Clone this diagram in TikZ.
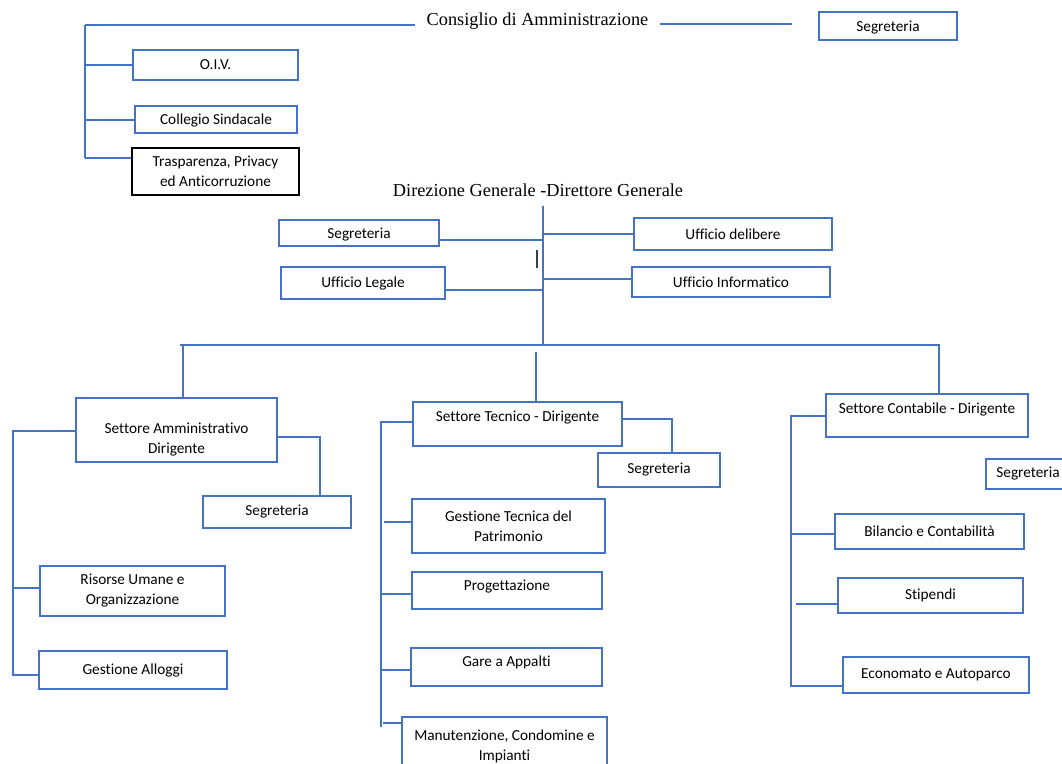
\documentclass[tikz,border=0pt]{standalone}
\usepackage{fontspec}
\setmainfont{Liberation Serif}
\newfontfamily\calfont[Ligatures={NoCommon}]{Carlito}
\usepackage{xcolor}
\usetikzlibrary{positioning}
\definecolor{orgblue}{RGB}{68,114,196}
\tikzset{
  unit/.style={draw=orgblue, line width=1.1pt, rectangle, inner sep=2pt, align=center,
    font=\calfont\fontsize{15.3}{20}\selectfont},
  link/.style={draw=orgblue, line width=1.1pt},
  head/.style={font=\fontsize{18.3}{22}\selectfont, inner xsep=11pt, inner ysep=4pt},
}

\begin{document}
\begin{tikzpicture}[x=1pt, y=-1pt]
  \useasboundingbox (0,0) rectangle (1062,763);
  \clip (0,0) rectangle (1062,763);
  \fill[white] (0,0) rectangle (1062,763);

  % Consiglio di Amministrazione
  \node[head] (cda) at (537.5,21) {Consiglio di Amministrazione};
  \node[unit, minimum width=138, minimum height=28, text height=13pt] (segcda) at (888,26) {Segreteria};
  \node[unit, minimum width=165, minimum height=30] (oiv) at (215.5,65) {O.I.V.};
  \node[unit, minimum width=162, minimum height=27, text height=13pt] (collegio) at (216,119.5) {Collegio Sindacale};
  \node[unit, draw=black, minimum width=167, minimum height=47] (trasp) at (215.5,171.5) {Trasparenza, Privacy\\ed Anticorruzione};

  \coordinate (cdaL) at (85,25);
  \coordinate (cdaR) at (792,24);
  \coordinate (cdaB) at (85,158);
  \draw[link] (cdaL) -- (cdaL -| cda.west);
  \draw[link] (cdaR -| cda.east) -- (cdaR);
  \draw[link] (cdaL) -- (cdaB);
  \coordinate (jOiv) at (85,65);
  \draw[link] (jOiv) -- (jOiv -| oiv.west);
  \coordinate (jCollegio) at (85,120);
  \draw[link] (jCollegio) -- (jCollegio -| collegio.west);
  \draw[link] (cdaB) -- (cdaB -| trasp.west);

  % Direzione Generale
  \node[head] (dg) at (538,190) {Direzione Generale -Direttore Generale};
  \node[unit, minimum width=160, minimum height=26, text height=14.5pt] (segdg) at (359,233) {Segreteria};
  \node[unit, minimum width=164, minimum height=32, text height=12pt] (legale) at (363,283) {Ufficio Legale};
  \node[unit, minimum width=198, minimum height=32] (delibere) at (733,234) {Ufficio delibere};
  \node[unit, minimum width=198, minimum height=30] (informatico) at (731,282) {Ufficio Informatico};

  \coordinate (dgT) at (543,206);
  \coordinate (dgB) at (543,345);
  \draw[link] (dgT) -- (dgB);
  \coordinate (jSegdg) at (543,240);
  \draw[link] (jSegdg) -- (jSegdg -| segdg.east);
  \coordinate (jLegale) at (543,290);
  \draw[link] (jLegale) -- (jLegale -| legale.east);
  \coordinate (jDelibere) at (543,234);
  \draw[link] (jDelibere) -- (jDelibere -| delibere.west);
  \coordinate (jInformatico) at (543,279);
  \draw[link] (jInformatico) -- (jInformatico -| informatico.west);
  \draw[black!75, line width=1.4pt] (537,250) -- (537,268);

  % settori
  \node[unit, minimum width=201, minimum height=64, text height=49.5pt] (amm) at (176.5,430) {Settore Amministrativo\\Dirigente};
  \node[unit, minimum width=209, minimum height=44, text depth=16pt] (tecnico) at (517.5,424) {Settore Tecnico - Dirigente};
  \node[unit, minimum width=202, minimum height=43, text depth=15pt] (contab) at (927,415.5) {Settore Contabile - Dirigente};

  \coordinate (busL) at (180,345);
  \coordinate (busR) at (940,345);
  \draw[link] (busL) -- (busR);
  \coordinate (bA) at (183,345);
  \draw[link] (bA) -- (bA |- amm.north);
  \coordinate (bT) at (536,352);
  \draw[link] (bT) -- (bT |- tecnico.north);
  \coordinate (bC) at (939,345);
  \draw[link] (bC) -- (bC |- contab.north);

  % Settore Amministrativo
  \node[unit, minimum width=148, minimum height=32] (segamm) at (277,512) {Segreteria};
  \node[unit, minimum width=185, minimum height=50] (risorse) at (132.5,591) {Risorse Umane e\\Organizzazione};
  \node[unit, minimum width=188, minimum height=38] (alloggi) at (133,670) {Gestione Alloggi};

  \coordinate (kAmm) at (320,437);
  \draw[link] (kAmm -| amm.east) -- (kAmm) -- (kAmm |- segamm.north);
  \coordinate (jAmm) at (13,431);
  \coordinate (jAlloggi) at (13,675);
  \draw[link] (jAmm -| amm.west) -- (jAmm) -- (jAlloggi) -- (jAlloggi -| alloggi.west);
  \coordinate (jRisorse) at (13,588);
  \draw[link] (jRisorse) -- (jRisorse -| risorse.west);

  % Settore Tecnico
  \node[unit, minimum width=122, minimum height=34] (segtec) at (659,470) {Segreteria};
  \node[unit, minimum width=193, minimum height=54] (gesttec) at (508.5,526) {Gestione Tecnica del\\Patrimonio};
  \node[unit, minimum width=190, minimum height=37, text depth=10pt] (progett) at (507,590.5) {Progettazione};
  \node[unit, minimum width=191, minimum height=38, text depth=11.5pt] (gare) at (506.5,667) {Gare a Appalti};
  \node[unit, minimum width=205, minimum height=58] (manut) at (504.5,746) {Manutenzione, Condomine e\\Impianti};

  \coordinate (kTec) at (672,419);
  \draw[link] (kTec -| tecnico.east) -- (kTec) -- (kTec |- segtec.north);
  \coordinate (jTec) at (381,422);
  \coordinate (jManut) at (381,727);
  \draw[link] (jTec -| tecnico.west) -- (jTec) -- (jManut);
  \coordinate (jGesttec) at (384,522);
  \draw[link] (jGesttec) -- (jGesttec -| gesttec.west);
  \coordinate (jProgett) at (380,594);
  \draw[link] (jProgett) -- (jProgett -| progett.west);
  \coordinate (jGare) at (381,670);
  \draw[link] (jGare) -- (jGare -| gare.west);
  \coordinate (jManutH) at (383,723);
  \draw[link] (jManutH) -- (jManutH -| manut.west);

  % Settore Contabile
  \node[unit, minimum width=84, minimum height=30] (segcont) at (1028,474) {Segreteria};
  \node[unit, minimum width=189, minimum height=35] (bilancio) at (929.5,531.5) {Bilancio e Contabilità};
  \node[unit, minimum width=185, minimum height=35] (stipendi) at (930.5,595.5) {Stipendi};
  \node[unit, minimum width=186, minimum height=36] (economato) at (936,675) {Economato e Autoparco};

  \coordinate (jCont) at (791,416);
  \coordinate (jEconomato) at (791,686);
  \draw[link] (jCont -| contab.west) -- (jCont) -- (jEconomato) -- (jEconomato -| economato.west);
  \coordinate (jBilancio) at (791,534);
  \draw[link] (jBilancio) -- (jBilancio -| bilancio.west);
  \coordinate (jStipendi) at (796,604);
  \draw[link] (jStipendi) -- (jStipendi -| stipendi.west);
\end{tikzpicture}
\end{document}
